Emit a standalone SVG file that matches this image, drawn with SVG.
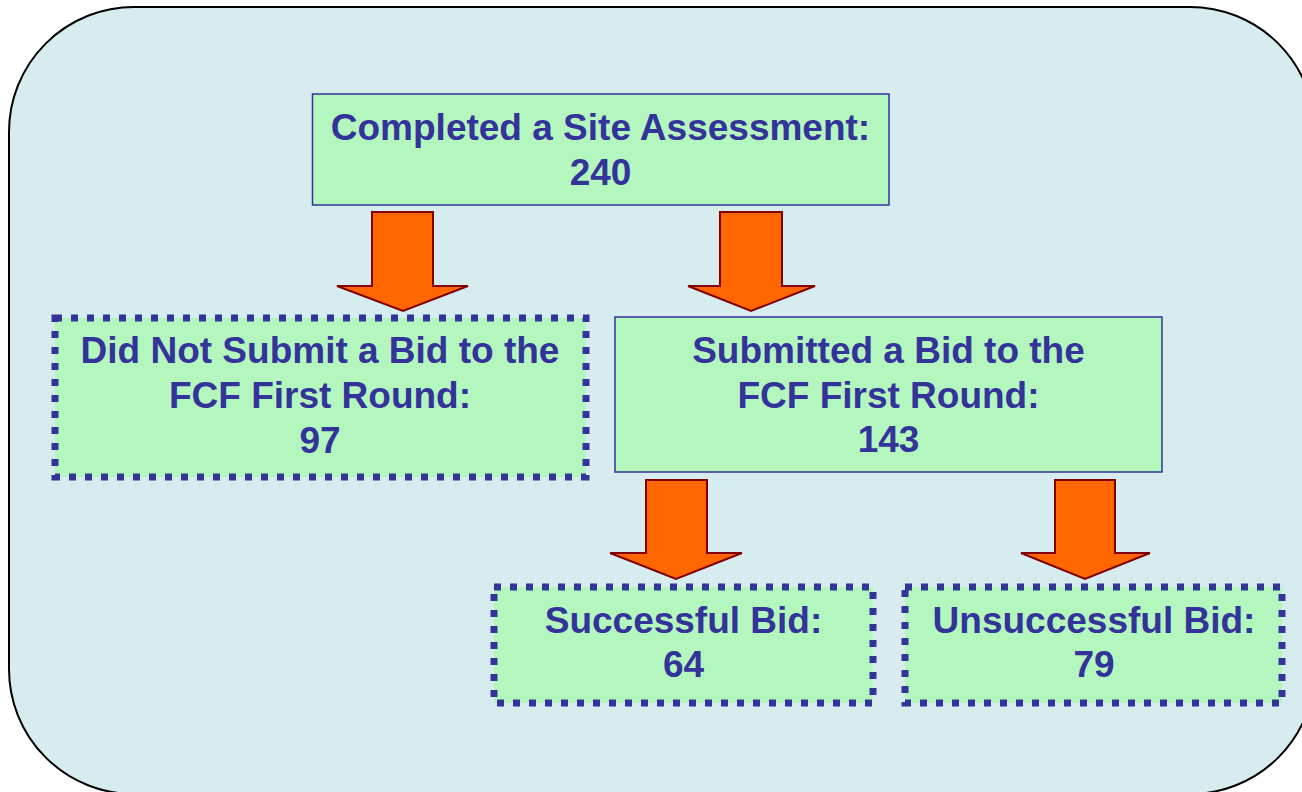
<svg xmlns="http://www.w3.org/2000/svg" width="1302" height="792" viewBox="0 0 1302 792">
<style>
.bg{fill:#D7ECEE;stroke:#000;stroke-width:2}
.solid{fill:#B3F7BF;stroke:#333399;stroke-width:1.5}
.dash{fill:#B3F7BF;stroke:#333399;stroke-width:7;stroke-dasharray:7 9}
.arrow{fill:#FF6600;stroke:#800000;stroke-width:2;stroke-linejoin:miter}
text{font-family:"Liberation Sans",Arial,sans-serif;font-weight:bold;font-size:37px;fill:#333399;text-anchor:middle}
</style>
<rect class="bg" x="9" y="7" width="1306" height="787" rx="125" ry="125"/>
<g id="connectors">
<polygon class="arrow" points="372,212 433,212 433,286 468,286 403,311 337,286 372,286"/>
<polygon class="arrow" points="720,212 782,212 782,286 815,286 751,311 688,286 720,286"/>
<polygon class="arrow" points="646,480 707,480 707,553 742,553 676,579 610,553 646,553"/>
<polygon class="arrow" points="1055,480 1115,480 1115,553 1150,553 1085,579 1021,553 1055,553"/>
</g>
<g id="node-completed">
<rect class="solid" x="312.5" y="94" width="576.5" height="111"/>
<text x="600.5" y="140">Completed a Site Assessment:</text>
<text x="600.5" y="185">240</text>
</g>
<g id="node-not-submitted">
<rect class="dash" x="55" y="318" width="531" height="159"/>
<text x="320" y="363">Did Not Submit a Bid to the</text>
<text x="320" y="408">FCF First Round:</text>
<text x="320" y="453">97</text>
</g>
<g id="node-submitted">
<rect class="solid" x="615" y="317" width="547" height="155"/>
<text x="888.5" y="363">Submitted a Bid to the</text>
<text x="888.5" y="408">FCF First Round:</text>
<text x="888.5" y="452">143</text>
</g>
<g id="node-successful">
<rect class="dash" x="494" y="587" width="379" height="116"/>
<text x="683.5" y="633">Successful Bid:</text>
<text x="683.5" y="677">64</text>
</g>
<g id="node-unsuccessful">
<rect class="dash" x="905" y="587" width="377" height="116"/>
<text x="1094" y="633">Unsuccessful Bid:</text>
<text x="1094" y="677">79</text>
</g>
</svg>
